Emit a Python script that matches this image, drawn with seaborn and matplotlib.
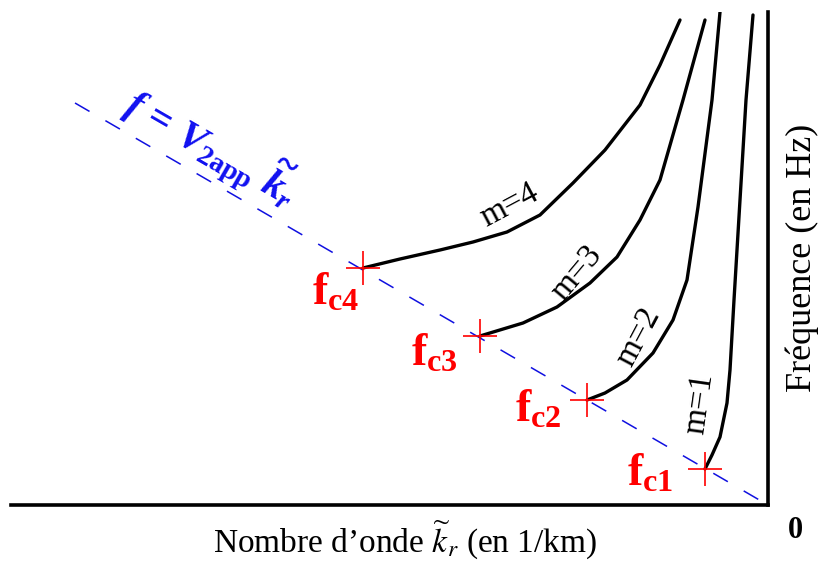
import numpy as np
import pandas as pd
import matplotlib
matplotlib.use('Agg')
import matplotlib.pyplot as plt
import seaborn as sns

# Dispersion curves (wavenumber k, frequency f), arbitrary units
k_m1 = [0.63, 0.56, 0.48, 0.41, 0.38, 0.34, 0.28, 0.22, 0.15]
f_m1 = [0.36, 0.50, 0.68, 1.02, 1.35, 2.05, 3.05, 4.05, 4.90]
k_m2 = [1.81, 1.63, 1.41, 1.15, 0.95, 0.81, 0.70, 0.56, 0.48]
f_m2 = [1.05, 1.12, 1.25, 1.52, 1.85, 2.25, 2.98, 4.05, 4.93]
k_m3 = [2.88, 2.45, 2.11, 1.78, 1.51, 1.28, 1.08, 0.85, 0.63]
f_m3 = [1.69, 1.82, 1.98, 2.22, 2.48, 2.85, 3.25, 4.05, 4.85]
k_m4 = [4.05, 3.68, 3.28, 2.95, 2.61, 2.28, 1.95, 1.63, 1.28, 1.08, 0.88]
f_m4 = [2.37, 2.46, 2.55, 2.63, 2.73, 2.90, 3.22, 3.55, 4.00, 4.40, 4.85]
modes = ['m=1', 'm=2', 'm=3', 'm=4']

# cut-off frequencies
fc_names = ['c1', 'c2', 'c3', 'c4']
fc_k = [0.63, 1.81, 2.88, 4.05]
fc_f = [0.36, 1.05, 1.69, 2.37]

# apparent velocity line f = V2app * k
line_k = [6.93, 0.0]
line_f = [4.02, 0.0]

sns.set_style('white')
plt.rcParams['font.family'] = ['Liberation Serif', 'DejaVu Serif']
plt.rcParams['text.color'] = 'black'
plt.rcParams['mathtext.fontset'] = 'custom'
plt.rcParams['mathtext.rm'] = 'Liberation Serif:bold'
plt.rcParams['mathtext.bf'] = 'Liberation Serif:bold'
plt.rcParams['mathtext.it'] = 'Liberation Serif:bold:italic'

fig = plt.figure(figsize=(8.19, 5.63), dpi=100)
ax = fig.add_axes([11 / 819, 58 / 563, 757 / 819, 493 / 563])

curves = pd.concat([
    pd.DataFrame({'k': k, 'f': f, 'mode': m})
    for k, f, m in zip([k_m1, k_m2, k_m3, k_m4], [f_m1, f_m2, f_m3, f_m4], modes)
])
for m, grp in curves.groupby('mode'):
    sns.lineplot(data=grp, x='k', y='f', sort=False, estimator=None, color='black',
                 lw=2.4, ax=ax, zorder=3)

sns.lineplot(x=line_k, y=line_f, sort=False, estimator=None, color='#1010e0', lw=1.1,
             ax=ax, zorder=2)
ax.lines[-1].set_dashes((11, 12))

sns.scatterplot(x=fc_k, y=fc_f, marker='+', s=24 ** 2, color='red', linewidth=1.2,
                ax=ax, zorder=4)

# fc labels (offsets in pixels: right edge, top)
fc_off = [(-32, 16), (-25, 11), (-22, 3), (-4, -4)]
for name, k, f, (dx, dy) in zip(fc_names, fc_k, fc_f, fc_off):
    ax.annotate(r'$\mathrm{f}_{\mathrm{%s}}$' % name, (k, f), xytext=(dx * 0.72, dy * 0.72),
                textcoords='offset points', ha='right', va='top', color='red', fontsize=33)

# mode labels
mode_pos = [(0.69, 1.02, 82), (1.30, 1.68, 62), (1.91, 2.32, 50), (2.58, 3.00, 28)]
for m, (k, f, rot) in zip(modes, mode_pos):
    ax.text(k, f, m, rotation=rot, ha='center', va='center', fontsize=24,
            rotation_mode='anchor')

ax.text(5.56, 3.58, r'$f\,=\,V_{\mathrm{2app}}\ \widetilde{k}_{r}$', rotation=-30,
        rotation_mode='anchor', ha='center', va='center', color='#1010f0', fontsize=29)

ax.set_xlim(7.57, 0)
ax.set_ylim(0, 4.93)
ax.set_xticks([])
ax.set_yticks([])
ax.set_xlabel('')
ax.set_ylabel('')
for side in ['top', 'left']:
    ax.spines[side].set_visible(False)
for side in ['bottom', 'right']:
    ax.spines[side].set_linewidth(2.6)
    ax.spines[side].set_color('black')

fig.text(405 / 819, 1 - 540 / 563, r'Nombre d’onde $\widetilde{k}_r$ (en 1/km)', ha='center',
         va='center', fontsize=24, math_fontfamily='stix')
fig.text(802 / 819, 1 - 258 / 563, 'Fréquence (en Hz)', rotation=90, ha='center',
         va='center', fontsize=26)
fig.text(795 / 819, 1 - 530 / 563, '0', ha='center', va='center', fontsize=22,
         fontweight='bold')

fig.savefig('out.png', dpi=100)
